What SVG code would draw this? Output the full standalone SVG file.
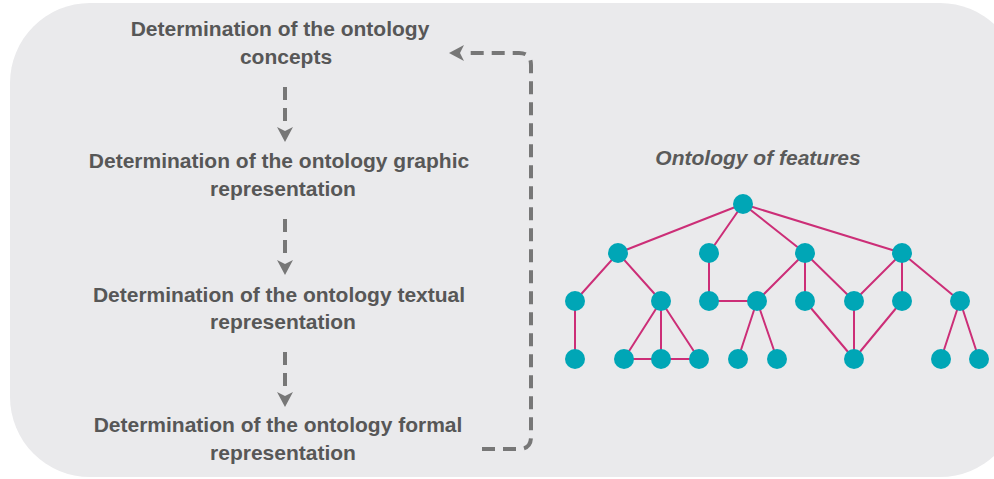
<svg xmlns="http://www.w3.org/2000/svg" width="994" height="479" viewBox="0 0 994 479">
<defs>
<style>
.bg{fill:#EAEAEC}
.lbl{font-family:"Liberation Sans",Arial,Helvetica,sans-serif;font-weight:bold;font-size:21px;fill:#575757;text-anchor:middle}
.ttl{font-family:"Liberation Sans",Arial,Helvetica,sans-serif;font-weight:bold;font-style:italic;font-size:21px;fill:#5a5a5a;text-anchor:middle}
.flow{fill:none;stroke:#777;stroke-width:4;stroke-dasharray:13 8}
.edge{stroke:#CC2E77;stroke-width:2;fill:none}
.node{fill:#00A6B6}
</style>
<marker id="ah" markerUnits="userSpaceOnUse" markerWidth="20" markerHeight="20" viewBox="0 -10 20 20" refX="1" refY="0" orient="auto">
<path d="M0,-8 L15,0 L0,8 L4,0 Z" fill="#777"/>
</marker>
</defs>
<rect class="bg" x="10" y="3" width="1010" height="474" rx="80" ry="80"/>

<g id="step1"><text class="lbl" x="280" y="36">Determination of the ontology</text><text class="lbl" x="286" y="64">concepts</text></g>
<g id="step2"><text class="lbl" x="279" y="168">Determination of the ontology graphic</text><text class="lbl" x="283" y="196">representation</text></g>
<g id="step3"><text class="lbl" x="279" y="302">Determination of the ontology textual</text><text class="lbl" x="283" y="329">representation</text></g>
<g id="step4"><text class="lbl" x="278" y="432">Determination of the ontology formal</text><text class="lbl" x="283" y="460">representation</text></g>

<g id="connectors">
<path class="flow" d="M285,87 V128" marker-end="url(#ah)"/>
<path class="flow" d="M285,219 V261" marker-end="url(#ah)"/>
<path class="flow" d="M285,352 V393" marker-end="url(#ah)"/>
<path class="flow" d="M482,449 H519 Q531,449 531,437 V65 Q531,53 519,53 H463" marker-end="url(#ah)"/>
</g>

<g id="ontology">
<text class="ttl" x="758" y="165">Ontology of features</text>
<g id="edges">
<path class="edge" d="M743,204 L618,253 M743,204 L709,253 M743,204 L805,253 M743,204 L902,253
M618,253 L575,301 M618,253 L661,301 M709,253 L709,301
M805,253 L757,301 M805,253 L805,301 M805,253 L854,301
M902,253 L854,301 M902,253 L902,301 M902,253 L960,301
M575,301 L575,359 M661,301 L624,359 M661,301 L661,359 M661,301 L699,359
M624,359 L699,359 M709,301 L757,301
M757,301 L738,359 M757,301 L777,359
M805,301 L854,359 M854,301 L854,359 M902,301 L854,359
M960,301 L941,359 M960,301 L979,359"/>
</g>
<g id="nodes">
<circle class="node" cx="743" cy="204" r="10"/>
<circle class="node" cx="618" cy="253" r="10"/>
<circle class="node" cx="709" cy="253" r="10"/>
<circle class="node" cx="805" cy="253" r="10"/>
<circle class="node" cx="902" cy="253" r="10"/>
<circle class="node" cx="575" cy="301" r="10"/>
<circle class="node" cx="661" cy="301" r="10"/>
<circle class="node" cx="709" cy="301" r="10"/>
<circle class="node" cx="757" cy="301" r="10"/>
<circle class="node" cx="805" cy="301" r="10"/>
<circle class="node" cx="854" cy="301" r="10"/>
<circle class="node" cx="902" cy="301" r="10"/>
<circle class="node" cx="960" cy="301" r="10"/>
<circle class="node" cx="575" cy="359" r="10"/>
<circle class="node" cx="624" cy="359" r="10"/>
<circle class="node" cx="661" cy="359" r="10"/>
<circle class="node" cx="699" cy="359" r="10"/>
<circle class="node" cx="738" cy="359" r="10"/>
<circle class="node" cx="777" cy="359" r="10"/>
<circle class="node" cx="854" cy="359" r="10"/>
<circle class="node" cx="941" cy="359" r="10"/>
<circle class="node" cx="979" cy="359" r="10"/>
</g>
</g>
</svg>
